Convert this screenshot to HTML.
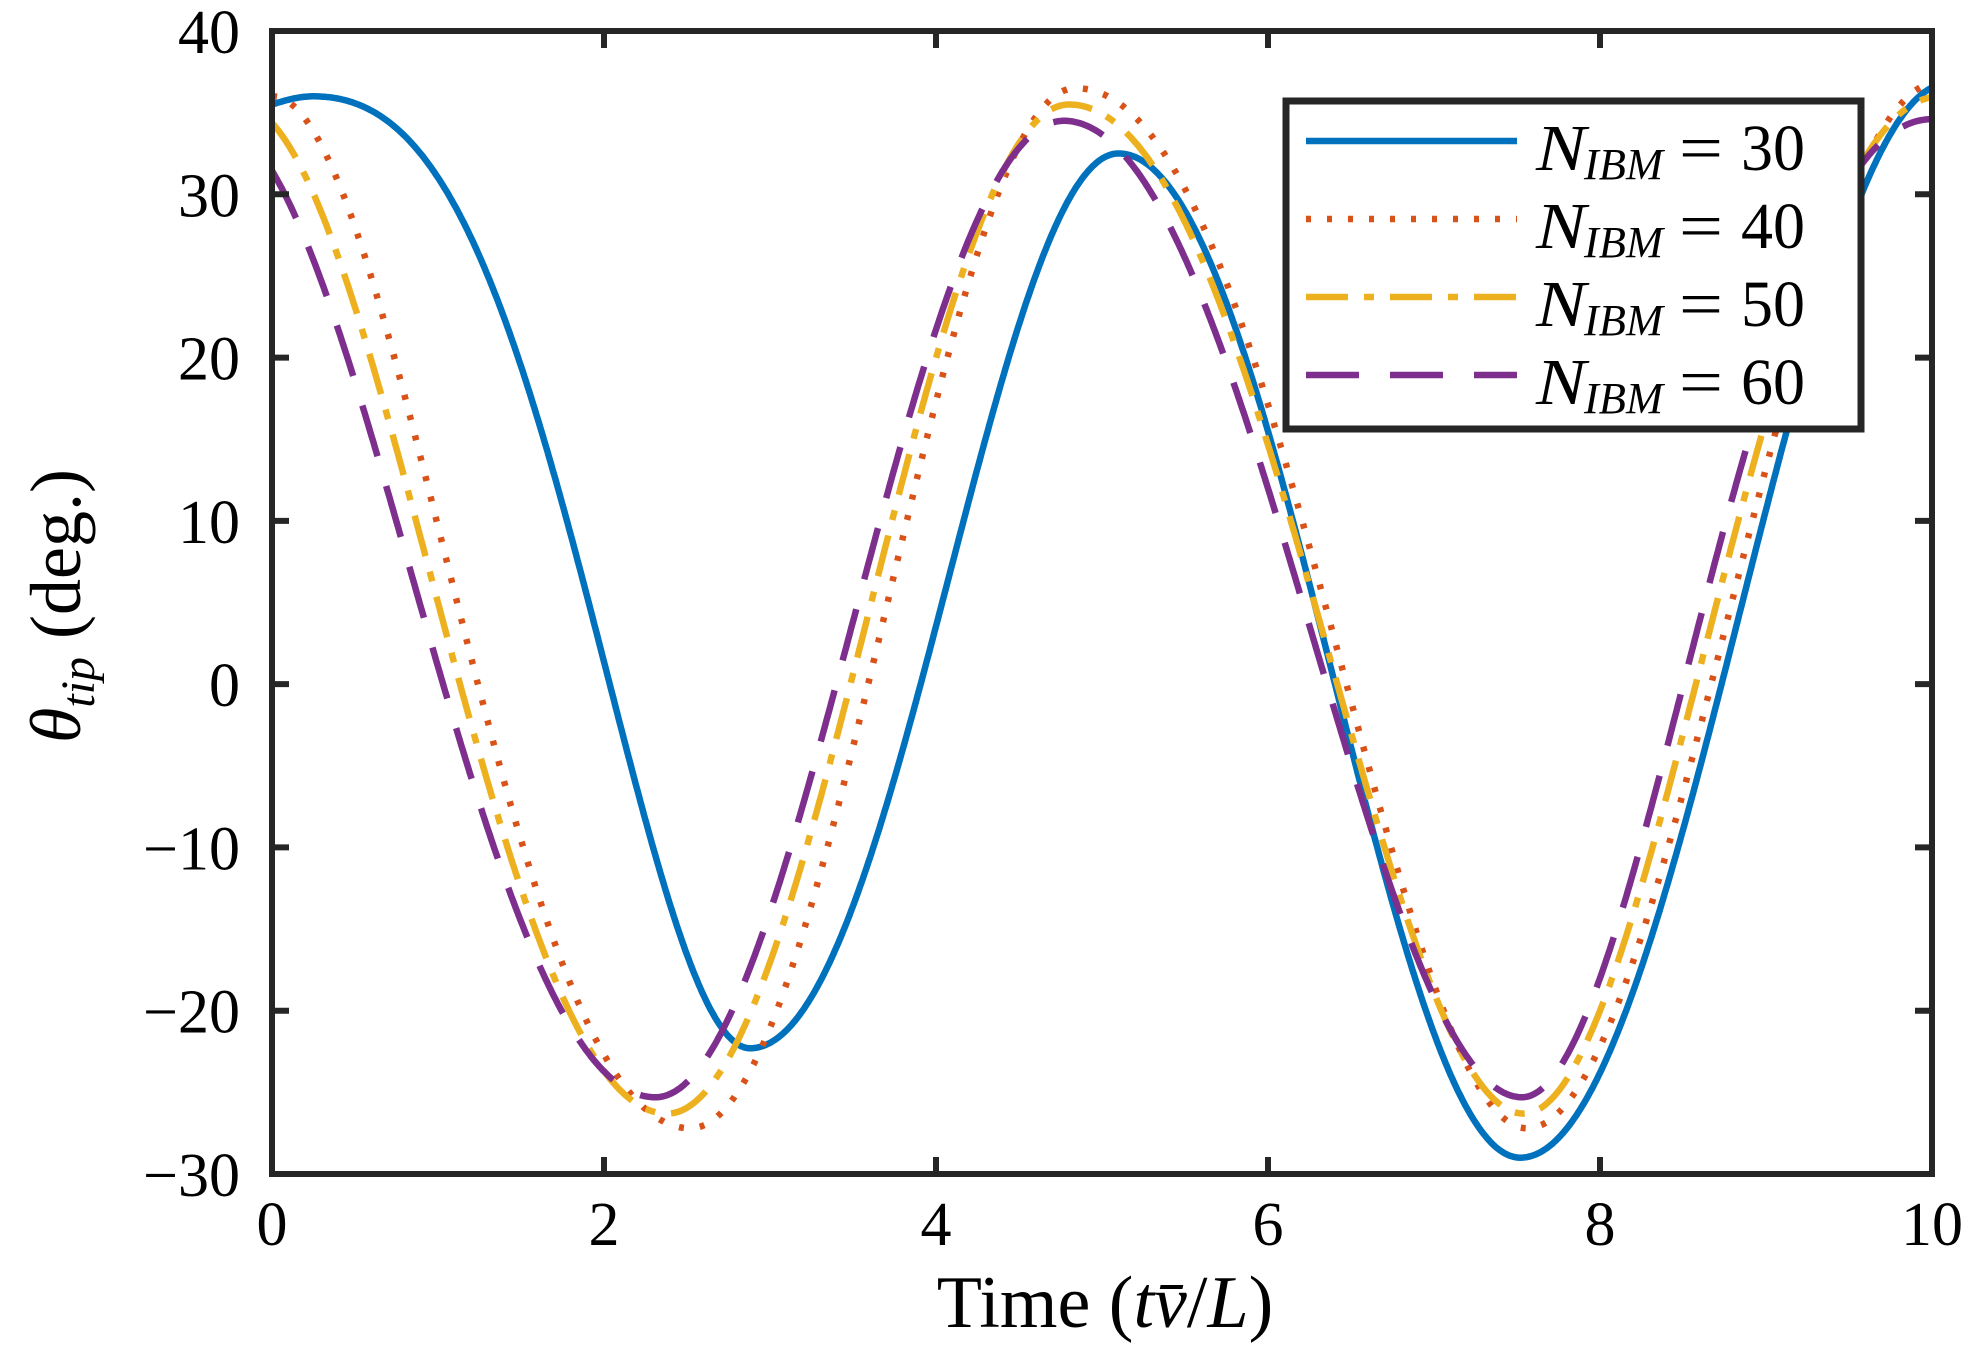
<!DOCTYPE html>
<html><head><meta charset="utf-8"><style>
html,body{margin:0;padding:0;background:#fff;}
svg{display:block;}
text{font-family:"Liberation Serif",serif;fill:#000;}
</style></head><body>
<svg id="s" width="1972" height="1350" xmlns="http://www.w3.org/2000/svg">
<rect width="1972" height="1350" fill="#fff"/>
<g id="curves"></g>
<g id="axes"></g>
<g id="legend">
<rect x="1286" y="101" width="575" height="328" fill="#fff" stroke="#262626" stroke-width="7"/>
<line x1="1306" y1="141" x2="1517" y2="141" stroke="#0072BD" stroke-width="6.5"/>
<line x1="1306" y1="219" x2="1517" y2="219" stroke="#D95319" stroke-width="6.5" stroke-dasharray="5 16"/>
<line x1="1306" y1="297" x2="1517" y2="297" stroke="#EDB120" stroke-width="6.5" stroke-dasharray="42 16 10 16"/>
<line x1="1306" y1="375" x2="1517" y2="375" stroke="#7E2F8E" stroke-width="6.5" stroke-dasharray="53 31"/>
<g id="legtext"></g>
</g>
<text x="1105" y="1327" font-size="74" text-anchor="middle">Time (<tspan font-style="italic">t</tspan><tspan font-style="italic">v̄</tspan>/<tspan font-style="italic">L</tspan>)</text>
<text transform="translate(80,606) rotate(-90)" font-size="72" text-anchor="middle"><tspan font-style="italic">θ</tspan><tspan font-style="italic" font-size="48" dy="14">tip</tspan><tspan dy="-14"> (deg.)</tspan></text>
</svg>
<script>
var X0=272,X1=1932,Y0=31,Y1=1174;
function px(t){return X0+(X1-X0)*t/10;}
function py(v){return Y0+(Y1-Y0)*(40-v)/70;}
var NS="http://www.w3.org/2000/svg";
function el(n,a,p){var e=document.createElementNS(NS,n);for(var k in a)e.setAttribute(k,a[k]);p.appendChild(e);return e;}
var series=[
{c:"#0072BD",d:"",e:[[-0.25,35],[0.25,36],[2.88,-22.3],[5.1,32.5],[7.52,-29],[10.1,36.8]],m:[0,1.86,4.04,6.36,8.83]},
{c:"#D95319",d:"5 16",e:[[0,36],[2.52,-27.2],[4.84,36.5],[7.56,-27.2],[10.05,36.9]],m:[1.13,3.70,6.35,8.79]},
{c:"#EDB120",d:"42 16 10 16",e:[[-0.2,35.5],[2.38,-26.3],[4.8,35.5],[7.54,-26.3],[10.05,36]],m:[1.01,3.6,6.29,8.7]},
{c:"#7E2F8E",d:"53 31",e:[[-0.35,34.5],[2.31,-25.3],[4.77,34.5],[7.53,-25.3],[10.0,34.6]],m:[0.9,3.52,6.22,8.62]}
];
function val(s,t){
 var e=s.e;
 for(var i=0;i<e.length-1;i++){
  if(t<=e[i+1][0]||i==e.length-2){
   var a=e[i][0],b=e[i+1][0],M=s.m[i]||(a+b)/2;
   if(i==0&&s.c=="#0072BD"){M=(a+b)/2;}
   var u=(t-a),L1=M-a,L=b-a;
   var q=(0.5/L1-1/L)/(L1-L); var p=1/L-q*L;
   var ph=p*u+q*u*u; ph=Math.max(0,Math.min(1,ph));
   var A=e[i][1],B=e[i+1][1];
   return A+(B-A)*(1-Math.cos(Math.PI*ph))/2;
  }
 }
}
var g=document.getElementById("curves");
series.forEach(function(s){
 var d="";
 for(var k=0;k<=1000;k++){var t=k/100;var y=val(s,t);d+=(k?"L":"M")+px(t).toFixed(1)+","+py(y).toFixed(1);}
 var a={d:d,fill:"none",stroke:s.c,"stroke-width":6.5,"stroke-linejoin":"round"};
 if(s.d)a["stroke-dasharray"]=s.d;
 el("path",a,g);
});
var ax=document.getElementById("axes");
el("rect",{x:X0,y:Y0,width:X1-X0,height:Y1-Y0,fill:"none",stroke:"#262626","stroke-width":6},ax);
for(var t=0;t<=10;t+=2){
 var x=px(t);
 el("line",{x1:x,y1:Y1,x2:x,y2:Y1-17,stroke:"#262626","stroke-width":6},ax);
 el("line",{x1:x,y1:Y0,x2:x,y2:Y0+17,stroke:"#262626","stroke-width":6},ax);
 var tx=el("text",{x:x,y:1245,"font-size":"62","text-anchor":"middle"},ax);tx.textContent=t;
}
for(var v=-30;v<=40;v+=10){
 var y=py(v);
 el("line",{x1:X0,y1:y,x2:X0+17,y2:y,stroke:"#262626","stroke-width":6},ax);
 el("line",{x1:X1,y1:y,x2:X1-17,y2:y,stroke:"#262626","stroke-width":6},ax);
 var ty=el("text",{x:240,y:y+22,"font-size":"62","text-anchor":"end"},ax);ty.textContent=(v<0?"\u2212"+(-v):v);
}
var lt=document.getElementById("legtext");
["30","40","50","60"].forEach(function(n,i){
 var by=170+78*i;
 var t1=el("text",{x:1536,y:by,"font-size":"66","font-style":"italic",textLength:"50",lengthAdjust:"spacingAndGlyphs"},lt);t1.textContent="N";
 var t2=el("text",{x:1584,y:by+9,"font-size":"44","font-style":"italic",textLength:"79",lengthAdjust:"spacingAndGlyphs"},lt);t2.textContent="IBM";
 var t3=el("text",{x:1701,y:by,"font-size":"66","text-anchor":"middle",textLength:"44",lengthAdjust:"spacingAndGlyphs"},lt);t3.textContent="=";
 var t4=el("text",{x:1741,y:by,"font-size":"66",textLength:"64",lengthAdjust:"spacingAndGlyphs"},lt);t4.textContent=n;
});
</script>
</body></html>
